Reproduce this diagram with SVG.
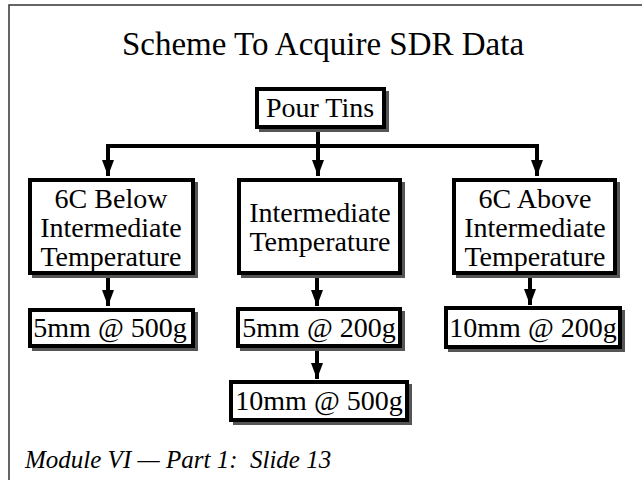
<svg xmlns="http://www.w3.org/2000/svg" width="642" height="480" viewBox="0 0 642 480" font-family="Liberation Serif, serif">
<style>
  .t { font-size: 28px; text-anchor: middle; fill: #000; }
  .box { fill: #fff; stroke: #000; stroke-width: 4; }
  .shadow { fill: #555; stroke: none; }
  .conn { fill: none; stroke: #000; stroke-width: 4; }
  .frame { fill: none; stroke: #333; stroke-width: 1.5; }
</style>
<defs>
  <marker id="ah" markerUnits="userSpaceOnUse" markerWidth="17" markerHeight="13" refX="16" refY="6.5" orient="auto" viewBox="0 0 17 13">
    <path d="M0,0.5 L16,6.5 L0,12.5 z" fill="#000"/>
  </marker>
</defs>
<rect width="642" height="480" fill="#fff"/>
<path class="frame" d="M9,480 V5 H642"/>
<text x="323" y="55" font-family="Liberation Serif, serif" font-size="33" text-anchor="middle">Scheme To Acquire SDR Data</text>

<g id="connectors">
  <path class="conn" d="M318,129 V146"/>
  <path class="conn" d="M108,146 H537"/>
  <path class="conn" d="M108,144 V176" marker-end="url(#ah)"/>
  <path class="conn" d="M318,146 V176" marker-end="url(#ah)"/>
  <path class="conn" d="M537,144 V176" marker-end="url(#ah)"/>
  <path class="conn" d="M108,276 V306" marker-end="url(#ah)"/>
  <path class="conn" d="M317,276 V306" marker-end="url(#ah)"/>
  <path class="conn" d="M530,276 V305" marker-end="url(#ah)"/>
  <path class="conn" d="M317,350 V379" marker-end="url(#ah)"/>
</g>

<g id="pour">
  <rect class="shadow" x="259" y="91" width="130" height="41"/>
  <rect class="box" x="257" y="89" width="127" height="38"/>
  <text class="t" font-family="Liberation Serif, serif" x="320" y="117">Pour Tins</text>
</g>

<g id="below">
  <rect class="shadow" x="32" y="182" width="166" height="96"/>
  <rect class="box" x="30" y="180" width="163" height="93"/>
  <text class="t" font-family="Liberation Serif, serif" x="111" y="208">6C Below</text>
  <text class="t" font-family="Liberation Serif, serif" x="111" y="237">Intermediate</text>
  <text class="t" font-family="Liberation Serif, serif" x="111" y="266">Temperature</text>
</g>

<g id="mid">
  <rect class="shadow" x="241" y="182" width="164" height="96"/>
  <rect class="box" x="239" y="180" width="161" height="93"/>
  <text class="t" font-family="Liberation Serif, serif" x="320" y="222">Intermediate</text>
  <text class="t" font-family="Liberation Serif, serif" x="320" y="251">Temperature</text>
</g>

<g id="above">
  <rect class="shadow" x="456" y="182" width="164" height="96"/>
  <rect class="box" x="454" y="180" width="161" height="93"/>
  <text class="t" font-family="Liberation Serif, serif" x="535" y="208">6C Above</text>
  <text class="t" font-family="Liberation Serif, serif" x="535" y="237">Intermediate</text>
  <text class="t" font-family="Liberation Serif, serif" x="535" y="266">Temperature</text>
</g>

<g id="b500">
  <rect class="shadow" x="32" y="312" width="166" height="39"/>
  <rect class="box" x="30" y="310" width="163" height="36"/>
  <text class="t" font-family="Liberation Serif, serif" x="110" y="337">5mm @ 500g</text>
</g>

<g id="m200">
  <rect class="shadow" x="240" y="311" width="165" height="40"/>
  <rect class="box" x="238" y="309" width="162" height="37"/>
  <text class="t" font-family="Liberation Serif, serif" x="319" y="337">5mm @ 200g</text>
</g>

<g id="a200">
  <rect class="shadow" x="448" y="310" width="177" height="42"/>
  <rect class="box" x="446" y="308" width="174" height="39"/>
  <text class="t" font-family="Liberation Serif, serif" x="533" y="337">10mm @ 200g</text>
</g>

<g id="m500">
  <rect class="shadow" x="233" y="384" width="179" height="41"/>
  <rect class="box" x="231" y="382" width="176" height="38"/>
  <text class="t" font-family="Liberation Serif, serif" x="319" y="410">10mm @ 500g</text>
</g>

<text x="25" y="468" font-family="Liberation Serif, serif" font-size="25" font-style="italic" xml:space="preserve">Module VI — Part 1:  Slide 13</text>
</svg>
